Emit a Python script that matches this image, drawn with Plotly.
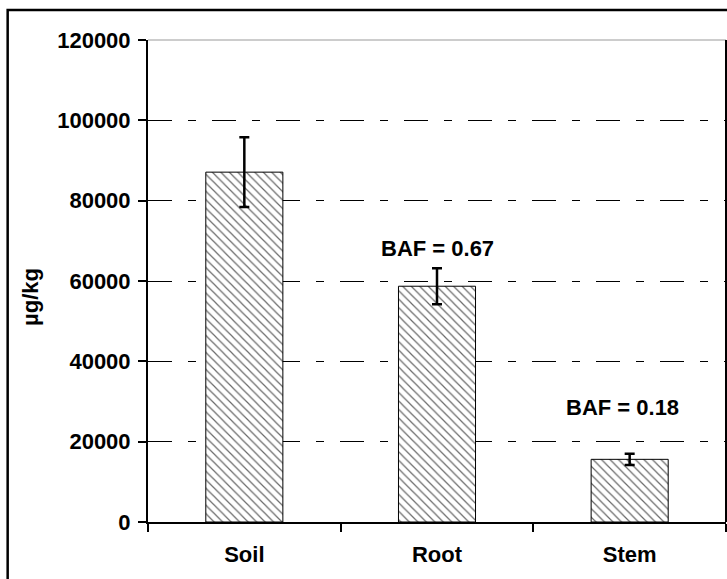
import plotly.graph_objects as go

# Concentrations in soil and plant tissues (µg/kg)
categories = ["Soil", "Root", "Stem"]
means = [87100, 58700, 15600]
errors = [8700, 4500, 1400]
y_ticks = [0, 20000, 40000, 60000, 80000, 100000, 120000]

# Bioaccumulation factors relative to soil
baf = [round(m / means[0], 2) for m in means]

FONT = "Arial, Liberation Sans, sans-serif"
SIZE = 22

fig = go.Figure()
fig.add_trace(go.Bar(
    x=categories,
    y=means,
    error_y=dict(type="data", array=errors, visible=True,
                 color="black", thickness=2.5, width=5),
    marker=dict(
        color="white",
        line=dict(color="black", width=1),
        pattern=dict(shape="\\", size=6, solidity=0.2,
                     fgcolor="#6a6a6a", bgcolor="white", fillmode="replace"),
    ),
    showlegend=False,
))

# BAF labels above root and stem
fig.add_annotation(x=categories[1], y=68200, text=f"<b>BAF = {baf[1]:.2f}</b>",
                   showarrow=False, font=dict(family=FONT, size=SIZE, color="black"))
fig.add_annotation(x=categories[2], y=28600, text=f"<b>BAF = {baf[2]:.2f}</b>",
                   showarrow=False, xshift=-7,
                   font=dict(family=FONT, size=SIZE, color="black"))

# Y-axis title
fig.add_annotation(xref="paper", yref="paper", x=-0.2024, y=0.467,
                   text="<b>µg/kg</b>", textangle=-90, showarrow=False,
                   xanchor="center", yanchor="middle",
                   font=dict(family=FONT, size=SIZE, color="black"))

# Chart frame and plot-area edges
fig.add_shape(type="rect", xref="paper", yref="paper",
              x0=-0.2428, x1=1.02, y0=-0.3, y1=1.0622,
              line=dict(color="black", width=2.5), layer="above")
fig.add_shape(type="line", xref="paper", yref="paper",
              x0=0, x1=1, y0=1, y1=1, line=dict(color="#9a9a9a", width=1),
              layer="below")
fig.add_shape(type="line", xref="paper", yref="paper",
              x0=1, x1=1, y0=0, y1=1, line=dict(color="black", width=2),
              layer="above")

fig.update_layout(
    width=727, height=579,
    margin=dict(l=148, r=1, t=40, b=57),
    paper_bgcolor="white", plot_bgcolor="white",
    bargap=0.6,
    font=dict(family=FONT, size=SIZE, color="black"),
    xaxis=dict(
        showline=True, linecolor="black", linewidth=2,
        ticks="outside", tickson="boundaries", ticklen=8, tickwidth=1.5,
        tickcolor="black", showgrid=False,
        tickfont=dict(family=FONT, size=SIZE, color="black", weight="bold"),
        ticklabelstandoff=12,
    ),
    yaxis=dict(
        range=[0, 120000], tickvals=y_ticks,
        ticktext=[str(v) for v in y_ticks],
        showline=True, linecolor="black", linewidth=2,
        ticks="outside", ticklen=8, tickwidth=1.5, tickcolor="black",
        showgrid=True, gridcolor="black", gridwidth=1,
        griddash="24px,16px,8px,16px",
        zeroline=False,
        tickfont=dict(family=FONT, size=SIZE, color="black", weight="bold"),
        ticklabelstandoff=3,
    ),
)

fig.write_html("out.html")
